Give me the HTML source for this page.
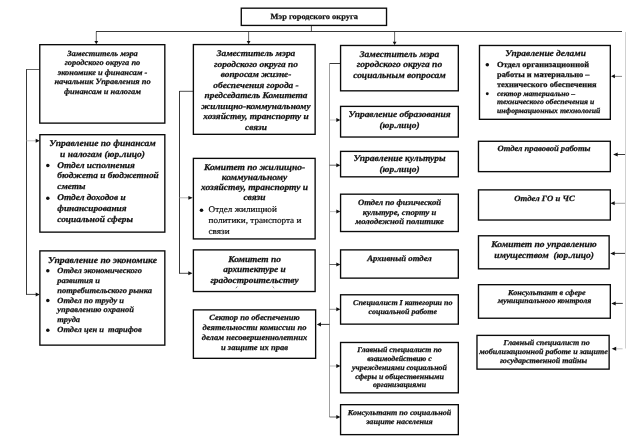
<!DOCTYPE html>
<html lang="ru"><head><meta charset="utf-8"><title>Структура администрации</title>
<style>html,body{margin:0;padding:0;background:#fff;overflow:hidden}svg{display:block;will-change:transform;filter:grayscale(1)}text{font-family:"Liberation Serif",serif;text-rendering:geometricPrecision}</style></head><body>
<svg width="640" height="447" viewBox="0 0 640 447">
<rect width="640" height="447" fill="#fff"/>
<line x1="96" y1="31.5" x2="622" y2="31.5" stroke="#222" stroke-width="0.9"/>
<line x1="311.4" y1="26" x2="311.4" y2="31.5" stroke="#222" stroke-width="0.8"/>
<line x1="96.3" y1="31.5" x2="96.3" y2="41.5" stroke="#222" stroke-width="0.7"/>
<path d="M96.30 44.30 L94.40 41.10 L98.20 41.10 Z" fill="#111"/>
<line x1="248.6" y1="31.5" x2="248.6" y2="41.5" stroke="#222" stroke-width="0.7"/>
<path d="M248.60 44.30 L246.70 41.10 L250.50 41.10 Z" fill="#111"/>
<line x1="394.6" y1="31.5" x2="394.6" y2="42" stroke="#222" stroke-width="0.7"/>
<path d="M394.60 45.00 L392.70 41.80 L396.50 41.80 Z" fill="#111"/>
<line x1="625.5" y1="32" x2="625.5" y2="348.5" stroke="#c4c4c4" stroke-width="0.8"/>
<line x1="622" y1="76.4" x2="614" y2="76.4" stroke="#777" stroke-width="0.9"/>
<path d="M611.00 76.30 L614.90 74.30 L614.90 78.30 Z" fill="#111"/>
<line x1="625" y1="154.5" x2="617" y2="154.5" stroke="#222" stroke-width="0.9"/>
<path d="M613.10 154.50 L617.70 152.50 L617.70 156.50 Z" fill="#111"/>
<line x1="625" y1="203.3" x2="614" y2="203.3" stroke="#999" stroke-width="0.9"/>
<path d="M610.50 203.30 L614.70 201.30 L614.70 205.30 Z" fill="#111"/>
<line x1="625" y1="253.4" x2="614" y2="253.4" stroke="#222" stroke-width="0.9"/>
<path d="M610.30 253.40 L614.70 251.40 L614.70 255.40 Z" fill="#111"/>
<line x1="622.8" y1="303.4" x2="615" y2="303.4" stroke="#222" stroke-width="0.9"/>
<path d="M611.30 303.40 L615.70 301.40 L615.70 305.40 Z" fill="#111"/>
<line x1="622.6" y1="348.8" x2="616" y2="348.8" stroke="#bbb" stroke-width="0.9"/>
<path d="M611.70 348.80 L616.20 346.80 L616.20 350.80 Z" fill="#111"/>
<line x1="39.5" y1="69.5" x2="26.5" y2="69.5" stroke="#222" stroke-width="0.7"/>
<line x1="26.5" y1="69.2" x2="26.5" y2="294.8" stroke="#222" stroke-width="0.9"/>
<line x1="26.5" y1="140.8" x2="36" y2="140.8" stroke="#bbb" stroke-width="0.9"/>
<path d="M39.70 140.80 L35.70 138.80 L35.70 142.80 Z" fill="#111"/>
<line x1="26.5" y1="294.4" x2="36" y2="294.4" stroke="#222" stroke-width="0.8"/>
<path d="M39.70 294.40 L35.70 292.40 L35.70 296.40 Z" fill="#111"/>
<line x1="193" y1="91.3" x2="179.5" y2="91.3" stroke="#222" stroke-width="0.8"/>
<line x1="179.5" y1="91" x2="179.5" y2="273.7" stroke="#222" stroke-width="0.9"/>
<line x1="179.5" y1="197.8" x2="189" y2="197.8" stroke="#aaa" stroke-width="0.9"/>
<path d="M192.70 197.80 L188.40 195.90 L188.40 199.70 Z" fill="#111"/>
<line x1="179.5" y1="273.3" x2="189" y2="273.3" stroke="#222" stroke-width="0.8"/>
<path d="M192.50 273.30 L188.30 271.30 L188.30 275.30 Z" fill="#111"/>
<line x1="340" y1="63.5" x2="329.5" y2="63.5" stroke="#222" stroke-width="0.9"/>
<line x1="329.5" y1="63.5" x2="329.5" y2="417" stroke="#777" stroke-width="0.7"/>
<line x1="329.5" y1="120" x2="337" y2="120" stroke="#aaa" stroke-width="0.7"/>
<path d="M340.40 120.00 L336.30 118.00 L336.30 122.00 Z" fill="#111"/>
<line x1="329.5" y1="165.2" x2="337" y2="165.2" stroke="#222" stroke-width="0.7"/>
<path d="M340.40 165.20 L336.30 163.20 L336.30 167.20 Z" fill="#111"/>
<line x1="329.5" y1="211.6" x2="337" y2="211.6" stroke="#aaa" stroke-width="0.7"/>
<path d="M340.40 211.60 L336.30 209.60 L336.30 213.60 Z" fill="#111"/>
<line x1="329.5" y1="264.5" x2="337" y2="264.5" stroke="#222" stroke-width="0.7"/>
<path d="M340.40 264.50 L336.30 262.50 L336.30 266.50 Z" fill="#111"/>
<line x1="329.5" y1="309.3" x2="337" y2="309.3" stroke="#666" stroke-width="0.7"/>
<path d="M340.40 309.30 L336.30 307.30 L336.30 311.30 Z" fill="#111"/>
<line x1="329.5" y1="366" x2="337" y2="366" stroke="#999" stroke-width="0.7"/>
<path d="M340.40 366.00 L336.30 364.00 L336.30 368.00 Z" fill="#111"/>
<line x1="329.5" y1="417" x2="337" y2="417" stroke="#222" stroke-width="0.7"/>
<path d="M340.40 417.00 L336.30 415.00 L336.30 419.00 Z" fill="#111"/>
<line x1="329.5" y1="324.4" x2="320" y2="324.4" stroke="#222" stroke-width="0.9"/>
<path d="M316.80 324.40 L321.00 322.30 L321.00 326.50 Z" fill="#111"/>
<rect x="241.28" y="8.18" width="145.25" height="17.25" fill="#fff" stroke="#0a0a0a" stroke-width="1.35"/>
<rect x="39.77" y="44.67" width="125.05" height="78.45" fill="#fff" stroke="#0a0a0a" stroke-width="1.35"/>
<rect x="39.88" y="134.68" width="124.95" height="97.45" fill="#fff" stroke="#0a0a0a" stroke-width="1.35"/>
<rect x="39.88" y="250.88" width="124.95" height="94.25" fill="#fff" stroke="#0a0a0a" stroke-width="1.35"/>
<rect x="193.38" y="44.57" width="121.75" height="89.75" fill="#fff" stroke="#0a0a0a" stroke-width="1.35"/>
<rect x="193.38" y="158.38" width="121.75" height="80.55" fill="#fff" stroke="#0a0a0a" stroke-width="1.35"/>
<rect x="193.38" y="249.88" width="121.75" height="41.65" fill="#fff" stroke="#0a0a0a" stroke-width="1.35"/>
<rect x="193.38" y="309.88" width="122.25" height="48.45" fill="#fff" stroke="#0a0a0a" stroke-width="1.35"/>
<rect x="340.57" y="45.47" width="117.75" height="45.35" fill="#fff" stroke="#0a0a0a" stroke-width="1.35"/>
<rect x="340.57" y="106.38" width="117.75" height="30.65" fill="#fff" stroke="#0a0a0a" stroke-width="1.35"/>
<rect x="340.57" y="151.38" width="117.75" height="25.45" fill="#fff" stroke="#0a0a0a" stroke-width="1.35"/>
<rect x="340.57" y="194.18" width="117.75" height="37.35" fill="#fff" stroke="#0a0a0a" stroke-width="1.35"/>
<rect x="340.57" y="249.88" width="117.75" height="28.25" fill="#fff" stroke="#0a0a0a" stroke-width="1.35"/>
<rect x="340.57" y="294.78" width="117.75" height="29.35" fill="#fff" stroke="#0a0a0a" stroke-width="1.35"/>
<rect x="340.57" y="342.48" width="117.75" height="50.35" fill="#fff" stroke="#0a0a0a" stroke-width="1.35"/>
<rect x="340.57" y="404.68" width="117.75" height="29.95" fill="#fff" stroke="#0a0a0a" stroke-width="1.35"/>
<rect x="479.48" y="45.47" width="130.85" height="73.85" fill="#fff" stroke="#0a0a0a" stroke-width="1.35"/>
<rect x="478.48" y="141.28" width="131.85" height="30.35" fill="#fff" stroke="#0a0a0a" stroke-width="1.35"/>
<rect x="478.48" y="189.88" width="131.85" height="30.15" fill="#fff" stroke="#0a0a0a" stroke-width="1.35"/>
<rect x="478.48" y="235.78" width="130.65" height="33.05" fill="#fff" stroke="#0a0a0a" stroke-width="1.35"/>
<rect x="478.48" y="284.68" width="131.85" height="33.55" fill="#fff" stroke="#0a0a0a" stroke-width="1.35"/>
<rect x="476.98" y="335.38" width="132.15" height="33.75" fill="#fff" stroke="#0a0a0a" stroke-width="1.35"/>
<line x1="235.9" y1="288.2" x2="237.3" y2="286.5" stroke="#555" stroke-width="0.8"/>
<line x1="272.7" y1="286.5" x2="274.1" y2="288.2" stroke="#777" stroke-width="0.8"/>
<text transform="translate(314.2 18.8) scale(1.07 1)" font-size="7.85" font-weight="bold" font-style="normal" text-anchor="middle" fill="#111" stroke="#111" stroke-width="0.25" xml:space="preserve">Мэр городского округа</text>
<text transform="translate(102.5 55.5) scale(1.07 1)" font-size="7.85" font-weight="bold" font-style="italic" text-anchor="middle" fill="#111" stroke="#111" stroke-width="0.25" xml:space="preserve">Заместитель мэра</text>
<text transform="translate(102.5 65.1) scale(1.07 1)" font-size="7.85" font-weight="bold" font-style="italic" text-anchor="middle" fill="#111" stroke="#111" stroke-width="0.25" xml:space="preserve">городского округа по</text>
<text transform="translate(102.5 74.7) scale(1.07 1)" font-size="7.85" font-weight="bold" font-style="italic" text-anchor="middle" fill="#111" stroke="#111" stroke-width="0.25" xml:space="preserve">экономике и финансам -</text>
<text transform="translate(102.5 84.3) scale(1.07 1)" font-size="7.85" font-weight="bold" font-style="italic" text-anchor="middle" fill="#111" stroke="#111" stroke-width="0.25" xml:space="preserve">начальник Управления по</text>
<text transform="translate(102.5 93.9) scale(1.07 1)" font-size="7.85" font-weight="bold" font-style="italic" text-anchor="middle" fill="#111" stroke="#111" stroke-width="0.25" xml:space="preserve">финансам и налогам</text>
<text transform="translate(102.5 145.9) scale(1.07 1)" font-size="8.879" font-weight="bold" font-style="italic" text-anchor="middle" fill="#111" stroke="#111" stroke-width="0.25" xml:space="preserve">Управление по финансам</text>
<text transform="translate(102.5 156.7) scale(1.07 1)" font-size="8.879" font-weight="bold" font-style="italic" text-anchor="middle" fill="#111" stroke="#111" stroke-width="0.25" xml:space="preserve">и налогам (юр.лицо)</text>
<circle cx="47.8" cy="165.6" r="1.75" fill="#111"/>
<circle cx="47.8" cy="198.2" r="1.75" fill="#111"/>
<text transform="translate(57.3 167.9) scale(1.07 1)" font-size="8.692" font-weight="bold" font-style="italic" text-anchor="start" fill="#111" stroke="#111" stroke-width="0.25" xml:space="preserve">Отдел исполнения</text>
<text transform="translate(57.3 178.4) scale(1.07 1)" font-size="8.692" font-weight="bold" font-style="italic" text-anchor="start" fill="#111" stroke="#111" stroke-width="0.25" xml:space="preserve">бюджета и бюджетной</text>
<text transform="translate(57.3 188.9) scale(1.07 1)" font-size="8.692" font-weight="bold" font-style="italic" text-anchor="start" fill="#111" stroke="#111" stroke-width="0.25" xml:space="preserve">сметы</text>
<text transform="translate(57.3 200.4) scale(1.07 1)" font-size="8.692" font-weight="bold" font-style="italic" text-anchor="start" fill="#111" stroke="#111" stroke-width="0.25" xml:space="preserve">Отдел доходов и</text>
<text transform="translate(57.3 211.0) scale(1.07 1)" font-size="8.692" font-weight="bold" font-style="italic" text-anchor="start" fill="#111" stroke="#111" stroke-width="0.25" xml:space="preserve">финансирования</text>
<text transform="translate(57.3 221.6) scale(1.07 1)" font-size="8.692" font-weight="bold" font-style="italic" text-anchor="start" fill="#111" stroke="#111" stroke-width="0.25" xml:space="preserve">социальной сферы</text>
<text transform="translate(102.5 262.5) scale(1.07 1)" font-size="9.019" font-weight="bold" font-style="italic" text-anchor="middle" fill="#111" stroke="#111" stroke-width="0.25" xml:space="preserve">Управление по экономике</text>
<circle cx="47.8" cy="270.8" r="1.75" fill="#111"/>
<circle cx="47.8" cy="300.5" r="1.75" fill="#111"/>
<circle cx="47.8" cy="330.3" r="1.75" fill="#111"/>
<text transform="translate(57.3 273.0) scale(1.07 1)" font-size="7.897" font-weight="bold" font-style="italic" text-anchor="start" fill="#111" stroke="#111" stroke-width="0.25" xml:space="preserve">Отдел экономического</text>
<text transform="translate(57.3 282.85) scale(1.07 1)" font-size="7.897" font-weight="bold" font-style="italic" text-anchor="start" fill="#111" stroke="#111" stroke-width="0.25" xml:space="preserve">развития и</text>
<text transform="translate(57.3 292.7) scale(1.07 1)" font-size="7.897" font-weight="bold" font-style="italic" text-anchor="start" fill="#111" stroke="#111" stroke-width="0.25" xml:space="preserve">потребительского рынка</text>
<text transform="translate(57.3 302.55) scale(1.07 1)" font-size="7.897" font-weight="bold" font-style="italic" text-anchor="start" fill="#111" stroke="#111" stroke-width="0.25" xml:space="preserve">Отдел по труду и</text>
<text transform="translate(57.3 312.4) scale(1.07 1)" font-size="7.897" font-weight="bold" font-style="italic" text-anchor="start" fill="#111" stroke="#111" stroke-width="0.25" xml:space="preserve">управлению охраной</text>
<text transform="translate(57.3 322.25) scale(1.07 1)" font-size="7.897" font-weight="bold" font-style="italic" text-anchor="start" fill="#111" stroke="#111" stroke-width="0.25" xml:space="preserve">труда</text>
<text transform="translate(57.3 332.1) scale(1.07 1)" font-size="7.897" font-weight="bold" font-style="italic" text-anchor="start" fill="#111" stroke="#111" stroke-width="0.25" xml:space="preserve">Отдел цен и  тарифов</text>
<text transform="translate(256.0 56.1) scale(1.07 1)" font-size="8.738" font-weight="bold" font-style="italic" text-anchor="middle" fill="#111" stroke="#111" stroke-width="0.25" xml:space="preserve">Заместитель мэра</text>
<text transform="translate(256.0 66.65) scale(1.07 1)" font-size="8.738" font-weight="bold" font-style="italic" text-anchor="middle" fill="#111" stroke="#111" stroke-width="0.25" xml:space="preserve">городского округа по</text>
<text transform="translate(256.0 77.2) scale(1.07 1)" font-size="8.738" font-weight="bold" font-style="italic" text-anchor="middle" fill="#111" stroke="#111" stroke-width="0.25" xml:space="preserve">вопросам жизне-</text>
<text transform="translate(256.0 87.75) scale(1.07 1)" font-size="8.738" font-weight="bold" font-style="italic" text-anchor="middle" fill="#111" stroke="#111" stroke-width="0.25" xml:space="preserve">обеспечения города -</text>
<text transform="translate(256.0 98.3) scale(1.07 1)" font-size="8.738" font-weight="bold" font-style="italic" text-anchor="middle" fill="#111" stroke="#111" stroke-width="0.25" xml:space="preserve">председатель Комитета</text>
<text transform="translate(256.0 108.85) scale(1.07 1)" font-size="8.738" font-weight="bold" font-style="italic" text-anchor="middle" fill="#111" stroke="#111" stroke-width="0.25" xml:space="preserve">жилищно-коммунальному</text>
<text transform="translate(256.0 119.4) scale(1.07 1)" font-size="8.738" font-weight="bold" font-style="italic" text-anchor="middle" fill="#111" stroke="#111" stroke-width="0.25" xml:space="preserve">хозяйству, транспорту и</text>
<text transform="translate(256.0 129.95) scale(1.07 1)" font-size="8.738" font-weight="bold" font-style="italic" text-anchor="middle" fill="#111" stroke="#111" stroke-width="0.25" xml:space="preserve">связи</text>
<text transform="translate(254.5 169.5) scale(1.07 1)" font-size="8.879" font-weight="bold" font-style="italic" text-anchor="middle" fill="#111" stroke="#111" stroke-width="0.25" xml:space="preserve">Комитет по жилищно-</text>
<text transform="translate(254.5 179.8) scale(1.07 1)" font-size="8.879" font-weight="bold" font-style="italic" text-anchor="middle" fill="#111" stroke="#111" stroke-width="0.25" xml:space="preserve">коммунальному</text>
<text transform="translate(254.5 190.1) scale(1.07 1)" font-size="8.879" font-weight="bold" font-style="italic" text-anchor="middle" fill="#111" stroke="#111" stroke-width="0.25" xml:space="preserve">хозяйству, транспорту и</text>
<text transform="translate(254.5 200.4) scale(1.07 1)" font-size="8.879" font-weight="bold" font-style="italic" text-anchor="middle" fill="#111" stroke="#111" stroke-width="0.25" xml:space="preserve">связи</text>
<circle cx="201.5" cy="210.2" r="1.8" fill="#111"/>
<text transform="translate(208.5 212.3) scale(1.07 1)" font-size="8.598" font-weight="normal" font-style="normal" text-anchor="start" fill="#111" stroke="#111" stroke-width="0.2" xml:space="preserve">Отдел жилищной</text>
<text transform="translate(208.5 223.0) scale(1.07 1)" font-size="8.598" font-weight="normal" font-style="normal" text-anchor="start" fill="#111" stroke="#111" stroke-width="0.2" xml:space="preserve">политики, транспорта и</text>
<text transform="translate(208.5 233.7) scale(1.07 1)" font-size="8.598" font-weight="normal" font-style="normal" text-anchor="start" fill="#111" stroke="#111" stroke-width="0.2" xml:space="preserve">связи</text>
<text transform="translate(254.5 261.5) scale(1.07 1)" font-size="8.785" font-weight="bold" font-style="italic" text-anchor="middle" fill="#111" stroke="#111" stroke-width="0.25" xml:space="preserve">Комитет по</text>
<text transform="translate(254.5 272.1) scale(1.07 1)" font-size="8.785" font-weight="bold" font-style="italic" text-anchor="middle" fill="#111" stroke="#111" stroke-width="0.25" xml:space="preserve">архитектуре и</text>
<text transform="translate(254.5 282.7) scale(1.07 1)" font-size="8.785" font-weight="bold" font-style="italic" text-anchor="middle" fill="#111" stroke="#111" stroke-width="0.25" xml:space="preserve">градостроительству</text>
<text transform="translate(254.5 319.9) scale(1.07 1)" font-size="7.991" font-weight="bold" font-style="italic" text-anchor="middle" fill="#111" stroke="#111" stroke-width="0.25" xml:space="preserve">Сектор по обеспечению</text>
<text transform="translate(254.5 329.9) scale(1.07 1)" font-size="7.991" font-weight="bold" font-style="italic" text-anchor="middle" fill="#111" stroke="#111" stroke-width="0.25" xml:space="preserve">деятельности комиссии по</text>
<text transform="translate(254.5 339.9) scale(1.07 1)" font-size="7.991" font-weight="bold" font-style="italic" text-anchor="middle" fill="#111" stroke="#111" stroke-width="0.25" xml:space="preserve">делам несовершеннолетних</text>
<text transform="translate(254.5 349.9) scale(1.07 1)" font-size="7.991" font-weight="bold" font-style="italic" text-anchor="middle" fill="#111" stroke="#111" stroke-width="0.25" xml:space="preserve">и защите их прав</text>
<text transform="translate(399.5 56.5) scale(1.07 1)" font-size="8.879" font-weight="bold" font-style="italic" text-anchor="middle" fill="#111" stroke="#111" stroke-width="0.25" xml:space="preserve">Заместитель мэра</text>
<text transform="translate(399.5 67.4) scale(1.07 1)" font-size="8.879" font-weight="bold" font-style="italic" text-anchor="middle" fill="#111" stroke="#111" stroke-width="0.25" xml:space="preserve">городского округа по</text>
<text transform="translate(399.5 78.3) scale(1.07 1)" font-size="8.879" font-weight="bold" font-style="italic" text-anchor="middle" fill="#111" stroke="#111" stroke-width="0.25" xml:space="preserve">социальным вопросам</text>
<text transform="translate(399.5 117.0) scale(1.07 1)" font-size="8.785" font-weight="bold" font-style="italic" text-anchor="middle" fill="#111" stroke="#111" stroke-width="0.25" xml:space="preserve">Управление образования</text>
<text transform="translate(399.5 128.3) scale(1.07 1)" font-size="8.785" font-weight="bold" font-style="italic" text-anchor="middle" fill="#111" stroke="#111" stroke-width="0.25" xml:space="preserve">(юр.лицо)</text>
<text transform="translate(399.5 161.3) scale(1.07 1)" font-size="8.879" font-weight="bold" font-style="italic" text-anchor="middle" fill="#111" stroke="#111" stroke-width="0.25" xml:space="preserve">Управление культуры</text>
<text transform="translate(399.5 172.2) scale(1.07 1)" font-size="8.785" font-weight="bold" font-style="italic" text-anchor="middle" fill="#111" stroke="#111" stroke-width="0.25" xml:space="preserve">(юр.лицо)</text>
<text transform="translate(399.5 205.1) scale(1.07 1)" font-size="8.084" font-weight="bold" font-style="italic" text-anchor="middle" fill="#111" stroke="#111" stroke-width="0.25" xml:space="preserve">Отдел по физической</text>
<text transform="translate(399.5 214.7) scale(1.07 1)" font-size="8.084" font-weight="bold" font-style="italic" text-anchor="middle" fill="#111" stroke="#111" stroke-width="0.25" xml:space="preserve">культуре, спорту и</text>
<text transform="translate(399.5 224.3) scale(1.07 1)" font-size="8.084" font-weight="bold" font-style="italic" text-anchor="middle" fill="#111" stroke="#111" stroke-width="0.25" xml:space="preserve">молодежной политике</text>
<text transform="translate(399.5 261.0) scale(1.07 1)" font-size="8.178" font-weight="bold" font-style="italic" text-anchor="middle" fill="#111" stroke="#111" stroke-width="0.25" xml:space="preserve">Архивный отдел</text>
<text transform="translate(402.8 304.5) scale(1.07 1)" font-size="7.477" font-weight="bold" font-style="italic" text-anchor="middle" fill="#111" stroke="#111" stroke-width="0.25" xml:space="preserve">Специалист I категории по</text>
<text transform="translate(402.8 313.8) scale(1.07 1)" font-size="7.477" font-weight="bold" font-style="italic" text-anchor="middle" fill="#111" stroke="#111" stroke-width="0.25" xml:space="preserve">социальной работе</text>
<text transform="translate(399.5 352.0) scale(1.07 1)" font-size="7.383" font-weight="bold" font-style="italic" text-anchor="middle" fill="#111" stroke="#111" stroke-width="0.25" xml:space="preserve">Главный специалист по</text>
<text transform="translate(399.5 360.85) scale(1.07 1)" font-size="7.383" font-weight="bold" font-style="italic" text-anchor="middle" fill="#111" stroke="#111" stroke-width="0.25" xml:space="preserve">взаимодействию с</text>
<text transform="translate(399.5 369.7) scale(1.07 1)" font-size="7.383" font-weight="bold" font-style="italic" text-anchor="middle" fill="#111" stroke="#111" stroke-width="0.25" xml:space="preserve">учреждениями социальной</text>
<text transform="translate(399.5 378.55) scale(1.07 1)" font-size="7.383" font-weight="bold" font-style="italic" text-anchor="middle" fill="#111" stroke="#111" stroke-width="0.25" xml:space="preserve">сферы и общественными</text>
<text transform="translate(399.5 387.4) scale(1.07 1)" font-size="7.383" font-weight="bold" font-style="italic" text-anchor="middle" fill="#111" stroke="#111" stroke-width="0.25" xml:space="preserve">организациями</text>
<text transform="translate(399.5 414.5) scale(1.07 1)" font-size="7.57" font-weight="bold" font-style="italic" text-anchor="middle" fill="#111" stroke="#111" stroke-width="0.25" xml:space="preserve">Консультант по социальной</text>
<text transform="translate(399.5 423.8) scale(1.07 1)" font-size="7.57" font-weight="bold" font-style="italic" text-anchor="middle" fill="#111" stroke="#111" stroke-width="0.25" xml:space="preserve">защите населения</text>
<text transform="translate(545.5 56.3) scale(1.07 1)" font-size="8.785" font-weight="bold" font-style="italic" text-anchor="middle" fill="#111" stroke="#111" stroke-width="0.25" xml:space="preserve">Управление делами</text>
<circle cx="487.3" cy="64.8" r="1.75" fill="#111"/>
<circle cx="487.3" cy="93.8" r="1.45" fill="#111"/>
<text transform="translate(497 67.1) scale(1.07 1)" font-size="7.85" font-weight="bold" font-style="normal" text-anchor="start" fill="#111" stroke="#111" stroke-width="0.25" xml:space="preserve">Отдел организационной</text>
<text transform="translate(497 76.8) scale(1.07 1)" font-size="7.85" font-weight="bold" font-style="normal" text-anchor="start" fill="#111" stroke="#111" stroke-width="0.25" xml:space="preserve">работы и материально –</text>
<text transform="translate(497 86.5) scale(1.07 1)" font-size="7.85" font-weight="bold" font-style="normal" text-anchor="start" fill="#111" stroke="#111" stroke-width="0.25" xml:space="preserve">технического обеспечения</text>
<text transform="translate(497 95.8) scale(1.07 1)" font-size="7.243" font-weight="bold" font-style="italic" text-anchor="start" fill="#111" stroke="#111" stroke-width="0.25" xml:space="preserve">сектор материально –</text>
<text transform="translate(497 104.4) scale(1.07 1)" font-size="7.243" font-weight="bold" font-style="italic" text-anchor="start" fill="#111" stroke="#111" stroke-width="0.25" xml:space="preserve">технического обеспечения и</text>
<text transform="translate(497 113.0) scale(1.07 1)" font-size="7.243" font-weight="bold" font-style="italic" text-anchor="start" fill="#111" stroke="#111" stroke-width="0.25" xml:space="preserve">информационных технологий</text>
<text transform="translate(544 151.4) scale(1.07 1)" font-size="8.037" font-weight="bold" font-style="italic" text-anchor="middle" fill="#111" stroke="#111" stroke-width="0.25" xml:space="preserve">Отдел правовой работы</text>
<text transform="translate(544.5 200.7) scale(1.07 1)" font-size="8.131" font-weight="bold" font-style="italic" text-anchor="middle" fill="#111" stroke="#111" stroke-width="0.25" xml:space="preserve">Отдел ГО и ЧС</text>
<text transform="translate(544 247.0) scale(1.07 1)" font-size="8.879" font-weight="bold" font-style="italic" text-anchor="middle" fill="#111" stroke="#111" stroke-width="0.25" xml:space="preserve">Комитет по управлению</text>
<text transform="translate(544 257.6) scale(1.07 1)" font-size="8.879" font-weight="bold" font-style="italic" text-anchor="middle" fill="#111" stroke="#111" stroke-width="0.25" xml:space="preserve">имуществом  (юр.лицо)</text>
<text transform="translate(546.8 294.5) scale(1.07 1)" font-size="7.57" font-weight="bold" font-style="italic" text-anchor="middle" fill="#111" stroke="#111" stroke-width="0.25" xml:space="preserve">Консультант в сфере</text>
<text transform="translate(544.6 302.9) scale(1.07 1)" font-size="7.383" font-weight="bold" font-style="italic" text-anchor="middle" fill="#111" stroke="#111" stroke-width="0.25" xml:space="preserve">муниципального контроля</text>
<text transform="translate(546.6 345.3) scale(1.07 1)" font-size="7.523" font-weight="bold" font-style="italic" text-anchor="middle" fill="#111" stroke="#111" stroke-width="0.25" xml:space="preserve">Главный специалист по</text>
<text transform="translate(543.5 354.3) scale(1.07 1)" font-size="7.523" font-weight="bold" font-style="italic" text-anchor="middle" fill="#111" stroke="#111" stroke-width="0.25" xml:space="preserve">мобилизационной работе и защите</text>
<text transform="translate(543.5 363.3) scale(1.07 1)" font-size="7.523" font-weight="bold" font-style="italic" text-anchor="middle" fill="#111" stroke="#111" stroke-width="0.25" xml:space="preserve">государственной тайны</text>
</svg></body></html>
